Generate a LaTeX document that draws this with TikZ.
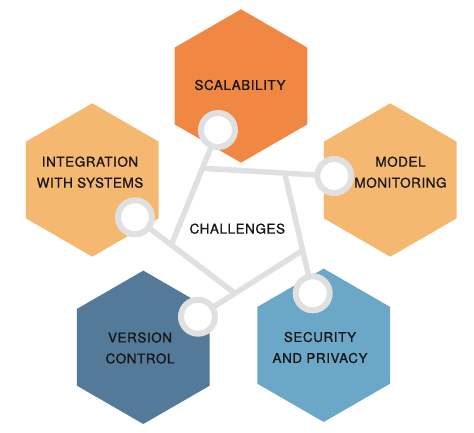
\documentclass[tikz,border=0pt]{standalone}
\usepackage{fontspec}
\setmainfont{TeX Gyre Heros}[LetterSpace=4,FakeBold=0.9]
\usetikzlibrary{shapes.geometric}
\definecolor{hexorange}{HTML}{F08843}
\definecolor{hexlight}{HTML}{F4B870}
\definecolor{hexdark}{HTML}{537A99}
\definecolor{hexblue}{HTML}{6BA7C6}
\definecolor{ringgray}{HTML}{E0E0E0}
\definecolor{txt}{HTML}{161616}
\tikzset{
  hexa/.style={regular polygon, regular polygon sides=6, shape border rotate=30,
    minimum size=153.4pt, inner sep=0pt, outer sep=0pt, draw=none},
  ring/.style={circle, minimum size=34pt, inner sep=0pt, line width=6pt, draw=ringgray, fill=white},
  link/.style={draw=ringgray, line width=5.5pt, line cap=butt},
  lbl/.style={font=\fontsize{13.5}{21}\selectfont, text=txt, align=center, inner sep=0pt}
}
\begin{document}
\begin{tikzpicture}[x=1pt,y=-1pt]
\useasboundingbox (0,0) rectangle (474,432);
% hexagons
\node[hexa, fill=hexorange] (hT) at (241,86) {};
\node[hexa, fill=hexlight] (hL) at (92.3,180) {};
\node[hexa, fill=hexlight] (hR) at (390.3,180) {};
\node[hexa, fill=hexdark] (hV) at (143.3,347.3) {};
\node[hexa, fill=hexblue] (hS) at (323.7,345.3) {};
% ring positions
\coordinate (cT) at (218,130);
\coordinate (cR) at (334.3,176);
\coordinate (cL) at (135,217.3);
\coordinate (cV) at (198,316.7);
\coordinate (cS) at (312.7,293.3);
% line ends
\coordinate (e1) at (171.3,244.9);
\coordinate (e2) at (202.4,168.3);
\coordinate (e3) at (284.6,173);
\coordinate (e4) at (235,293.3);
\coordinate (e5) at (302.7,250.4);
\draw[link] (cT) -- (e1);
\draw[link] (cR) -- (e2);
\draw[link] (cS) -- (e3);
\draw[link] (cL) -- (e4);
\draw[link] (cV) -- (e5);
% rings
\node[ring] (rT) at (cT) {};
\node[ring] (rR) at (cR) {};
\node[ring] (rL) at (cL) {};
\node[ring] (rV) at (cV) {};
\node[ring] (rS) at (cS) {};
% labels
\node[lbl] (tT) at (240,85) {SCALABILITY};
\node[lbl] (tL) at (90,172.2) {INTEGRATION\\WITH SYSTEMS};
\node[lbl] (tR) at (400.5,172.2) {MODEL\\MONITORING};
\node[lbl] (tC) at (237.3,228.7) {CHALLENGES};
\node[lbl] (tV) at (140,348) {VERSION\\CONTROL};
\node[lbl] (tS) at (320,347.5) {SECURITY\\AND PRIVACY};
\end{tikzpicture}
\end{document}
